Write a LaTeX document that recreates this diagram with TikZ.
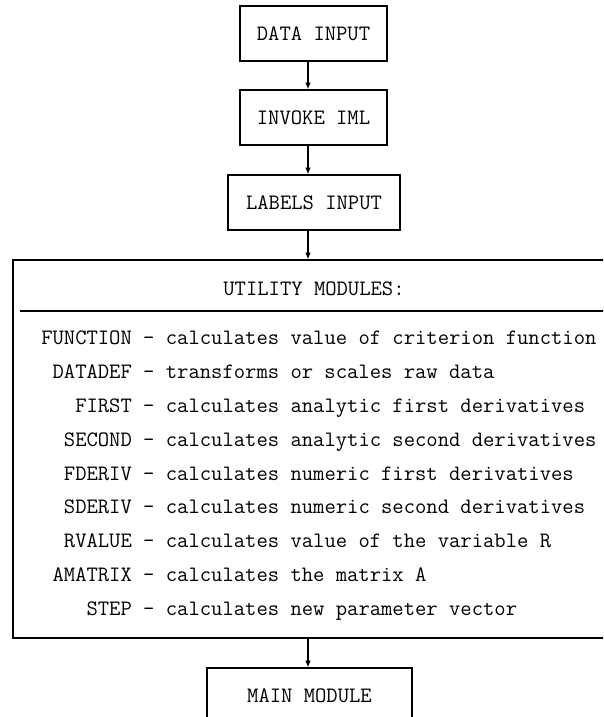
\documentclass[tikz,border=0pt]{standalone}
\usepackage{fontspec}
\usetikzlibrary{arrows.meta}
\tikzset{
  every node/.style={font=\ttfamily\fontsize{16.5}{18}\selectfont\addfontfeatures{FakeBold=1.5}, inner sep=0pt},
  box/.style={draw, line width=1pt, text height=10pt, text depth=0pt, anchor=center},
  arr/.style={line width=0.9pt, -{Latex[length=5pt,width=4.2pt]}},
  row/.style={anchor=base west},
}
\begin{document}
\begin{tikzpicture}[x=0.75pt,y=-0.75pt]
\useasboundingbox (0,0) rectangle (603,717);
\clip (0,0) rectangle (603,717);
\coordinate (col) at (308,0);
\node[box, minimum width=147*0.75pt, minimum height=55*0.75pt] (data) at (313.5,33.5) {DATA INPUT};
\node[box, minimum width=147*0.75pt, minimum height=55*0.75pt] (iml) at (313.5,117.5) {INVOKE IML};
\node[box, minimum width=172*0.75pt, minimum height=55*0.75pt] (labels) at (314,202.5) {LABELS INPUT};
\node[draw, line width=1pt, minimum width=600*0.75pt, minimum height=378*0.75pt] (util) at (313,449) {};
\draw[line width=1pt] (20,311) -- (util.east |- 0,311);
\node[anchor=base] (utitle) at (314,295) {UTILITY MODULES:};
\node[row] (r1) at (41,344) {FUNCTION - calculates value of criterion function};
\node[row] (r2) at (41,378) {\phantom{X}DATADEF - transforms or scales raw data};
\node[row] (r3) at (41,412) {\phantom{XXX}FIRST - calculates analytic first derivatives};
\node[row] (r4) at (41,446) {\phantom{XX}SECOND - calculates analytic second derivatives};
\node[row] (r5) at (41,480) {\phantom{XX}FDERIV - calculates numeric first derivatives};
\node[row] (r6) at (41,513) {\phantom{XX}SDERIV - calculates numeric second derivatives};
\node[row] (r7) at (41,547) {\phantom{XX}RVALUE - calculates value of the variable R};
\node[row] (r8) at (41,581) {\phantom{X}AMATRIX - calculates the matrix A};
\node[row] (r9) at (41,615) {\phantom{XXXX}STEP - calculates new parameter vector};
\node[box, minimum width=205*0.75pt, minimum height=56*0.75pt] (main) at (309.5,696) {MAIN MODULE};
\draw[arr] (data.south -| col) -- (iml.north -| col);
\draw[arr] (iml.south -| col) -- (labels.north -| col);
\draw[arr] (labels.south -| col) -- (util.north -| col);
\draw[arr] (util.south -| col) -- (main.north -| col);
\end{tikzpicture}
\end{document}
